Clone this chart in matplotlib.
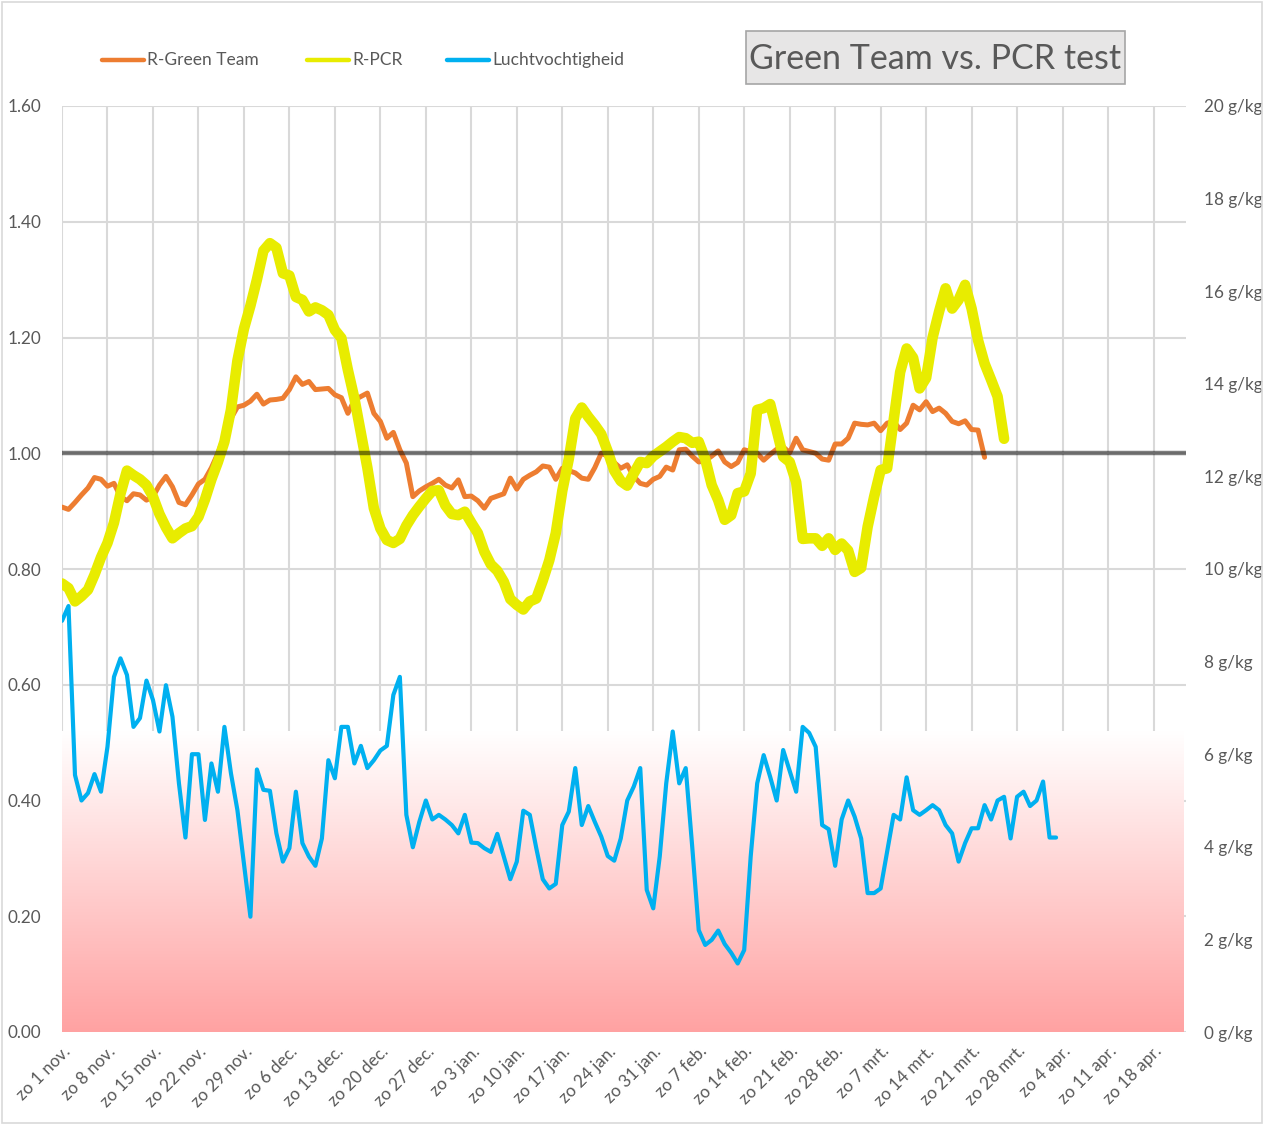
import matplotlib
matplotlib.use("Agg")
import matplotlib.pyplot as plt
import numpy as np
from matplotlib.colors import LinearSegmentedColormap
from matplotlib.patches import Rectangle
from matplotlib.lines import Line2D

plt.rcParams['font.family'] = ['Lato', 'DejaVu Sans']

# ---------------- data ----------------
n_days = 173  # daily categories from zo 1 nov. onward
week_labels = ["zo 1 nov.", "zo 8 nov.", "zo 15 nov.", "zo 22 nov.", "zo 29 nov.",
               "zo 6 dec.", "zo 13 dec.", "zo 20 dec.", "zo 27 dec.", "zo 3 jan.",
               "zo 10 jan.", "zo 17 jan.", "zo 24 jan.", "zo 31 jan.", "zo 7 feb.",
               "zo 14 feb.", "zo 21 feb.", "zo 28 feb.", "zo 7 mrt.", "zo 14 mrt.",
               "zo 21 mrt.", "zo 28 mrt.", "zo 4 apr.", "zo 11 apr.", "zo 18 apr."]

r_green_team = [0.907, 0.903, 0.915, 0.928, 0.940, 0.958, 0.955, 0.943, 0.948, 0.925,
                0.918, 0.930, 0.928, 0.919, 0.925, 0.945, 0.960, 0.942, 0.915, 0.911,
                0.928, 0.947, 0.955, 0.975, 1.000, 1.030, 1.060, 1.080, 1.083, 1.090,
                1.102, 1.085, 1.092, 1.093, 1.095, 1.110, 1.132, 1.119, 1.124, 1.110,
                1.111, 1.112, 1.101, 1.096, 1.069, 1.092, 1.098, 1.104, 1.069, 1.055,
                1.026, 1.036, 1.006, 0.983, 0.925, 0.935, 0.942, 0.948, 0.955, 0.945,
                0.940, 0.954, 0.925, 0.926, 0.918, 0.905, 0.922, 0.926, 0.930, 0.957,
                0.938, 0.955, 0.962, 0.968, 0.978, 0.976, 0.955, 0.974, 0.970, 0.966,
                0.957, 0.955, 0.975, 1.000, 0.995, 0.984, 0.974, 0.980, 0.960, 0.948,
                0.945, 0.955, 0.960, 0.976, 0.971, 1.006, 1.007, 0.995, 0.985, 0.987,
                0.995, 1.004, 0.985, 0.977, 0.984, 1.006, 1.003, 1.000, 0.988, 0.998,
                1.007, 1.011, 1.001, 1.026, 1.006, 1.003, 1.000, 0.990, 0.988, 1.016,
                1.016, 1.026, 1.052, 1.050, 1.049, 1.052, 1.039, 1.052, 1.055, 1.041,
                1.052, 1.083, 1.075, 1.089, 1.072, 1.078, 1.069, 1.055, 1.051, 1.056,
                1.041, 1.040, 0.993]

r_pcr = [0.775, 0.767, 0.744, 0.753, 0.764, 0.790, 0.820, 0.845, 0.880, 0.930,
         0.970, 0.962, 0.955, 0.945, 0.925, 0.895, 0.872, 0.853, 0.862, 0.870,
         0.874, 0.890, 0.920, 0.955, 0.985, 1.020, 1.075, 1.160, 1.215, 1.255,
         1.300, 1.350, 1.363, 1.355, 1.311, 1.307, 1.270, 1.265, 1.245, 1.252,
         1.247, 1.239, 1.213, 1.199, 1.144, 1.095, 1.035, 0.975, 0.905, 0.870,
         0.850, 0.845, 0.852, 0.875, 0.893, 0.908, 0.922, 0.935, 0.936, 0.910,
         0.895, 0.893, 0.899, 0.880, 0.862, 0.830, 0.808, 0.797, 0.778, 0.748,
         0.738, 0.730, 0.744, 0.749, 0.780, 0.815, 0.862, 0.935, 0.990, 1.060,
         1.079, 1.063, 1.049, 1.033, 1.003, 0.970, 0.952, 0.944, 0.965, 0.985,
         0.983, 0.995, 1.003, 1.011, 1.020, 1.028, 1.026, 1.018, 1.020, 0.990,
         0.945, 0.919, 0.885, 0.893, 0.931, 0.934, 0.965, 1.075, 1.078, 1.085,
         1.040, 0.994, 0.985, 0.950, 0.852, 0.853, 0.853, 0.840, 0.853, 0.833,
         0.844, 0.832, 0.795, 0.802, 0.873, 0.925, 0.971, 0.974, 1.057, 1.140,
         1.181, 1.165, 1.112, 1.130, 1.200, 1.245, 1.285, 1.250, 1.265, 1.291,
         1.250, 1.195, 1.155, 1.127, 1.098, 1.025]

luchtvochtigheid = [8.88, 9.20, 5.55, 5.00, 5.16, 5.57, 5.19, 6.16, 7.67, 8.07,
                    7.71, 6.59, 6.78, 7.59, 7.17, 6.49, 7.49, 6.81, 5.37, 4.20,
                    6.00, 6.00, 4.58, 5.80, 5.19, 6.59, 5.59, 4.79, 3.64, 2.49,
                    5.67, 5.23, 5.21, 4.29, 3.68, 3.97, 5.19, 4.08, 3.79, 3.59,
                    4.18, 5.87, 5.48, 6.59, 6.59, 5.80, 6.18, 5.70, 5.87, 6.08,
                    6.18, 7.28, 7.67, 4.69, 3.99, 4.54, 5.00, 4.59, 4.69, 4.59,
                    4.47, 4.29, 4.69, 4.09, 4.08, 3.97, 3.89, 4.28, 3.79, 3.30,
                    3.68, 4.78, 4.69, 3.97, 3.30, 3.10, 3.20, 4.47, 4.76, 5.70,
                    4.47, 4.88, 4.54, 4.22, 3.80, 3.70, 4.18, 5.00, 5.30, 5.70,
                    3.07, 2.67, 3.79, 5.37, 6.49, 5.37, 5.70, 4.00, 2.20, 1.88,
                    1.99, 2.19, 1.90, 1.71, 1.48, 1.77, 3.79, 5.37, 5.98, 5.51,
                    5.00, 6.09, 5.64, 5.19, 6.59, 6.46, 6.16, 4.47, 4.38, 3.59,
                    4.59, 5.00, 4.65, 4.18, 3.00, 3.00, 3.10, 3.89, 4.69, 4.59,
                    5.50, 4.79, 4.69, 4.79, 4.90, 4.79, 4.47, 4.29, 3.68, 4.08,
                    4.40, 4.40, 4.90, 4.59, 5.00, 5.08, 4.18, 5.08, 5.19, 4.88,
                    5.00, 5.41, 4.20, 4.20]

reference_r = 1.00          # horizontal line R = 1
humid_band_top = 6.5        # g/kg, top of the red gradient band

left_ticks = [0.00, 0.20, 0.40, 0.60, 0.80, 1.00, 1.20, 1.40, 1.60]
right_ticks = [0, 2, 4, 6, 8, 10, 12, 14, 16, 18, 20]

# ---------------- figure ----------------
W, H = 1264, 1125
fig = plt.figure(figsize=(W / 100, H / 100), dpi=100)
x0, x1, ytop, ybot = 62, 1186, 106, 1032
ax = fig.add_axes([x0 / W, 1 - ybot / H, (x1 - x0) / W, (ybot - ytop) / H])
ax2 = ax.twinx()

txt = '#595959'
grid_c = '#D9D9D9'

days = np.arange(n_days)
xmax = n_days

# gradient band (right axis)
cmap = LinearSegmentedColormap.from_list('band', ['#FFA2A2', '#FFFFFF'])
grad = np.linspace(0, 1, 256).reshape(-1, 1)
ax2.imshow(grad, extent=[0, xmax - 0.4, 0, humid_band_top], origin='lower',
           cmap=cmap, aspect='auto', zorder=1, interpolation='bicubic')

# lines
ax.axhline(reference_r, color='black', alpha=0.5, lw=3.2, zorder=5,
           solid_capstyle='round')
ax.plot(days[:len(r_green_team)], r_green_team, color='#ED7D31', lw=3.6,
        solid_capstyle='round', solid_joinstyle='round', zorder=3)
ax.plot(days[:len(r_pcr)], r_pcr, color='#E8EC00', lw=7.6,
        solid_capstyle='round', solid_joinstyle='round', zorder=4)
ax2.plot(days[:len(luchtvochtigheid)], luchtvochtigheid, color='#00B0F0', lw=3.0,
         solid_capstyle='round', solid_joinstyle='round', zorder=3)

# axes limits and ticks
ax.set_xlim(0, xmax)
ax2.set_xlim(0, xmax)
ax.set_ylim(0, 1.6)
ax2.set_ylim(0, 20)

ax.set_yticks(left_ticks)
ax.set_yticklabels([f"{v:.2f}" for v in left_ticks])
ax2.set_yticks(right_ticks)
ax2.set_yticklabels([f"{v} g/kg" for v in right_ticks])

week_pos = np.arange(0, 7 * len(week_labels), 7)
ax.set_xticks(week_pos)
ax.set_xticklabels(week_labels, rotation=45, ha='right', rotation_mode='anchor')

ax.tick_params(axis='both', length=0, colors=txt, labelsize=12.3)
ax.tick_params(axis='y', pad=15)
ax.tick_params(axis='x', pad=8)
ax2.tick_params(axis='y', length=0, colors=txt, labelsize=12.3, pad=13)

ax.grid(True, color=grid_c, lw=1.5, zorder=0)
ax.set_axisbelow(True)
for a in (ax, ax2):
    for s in a.spines.values():
        s.set_visible(False)

# legend (manual, top left)
def leg_item(xa, xb, xt, label, color):
    y = 1 - 60 / H
    fig.add_artist(Line2D([xa / W, xb / W], [y, y], color=color, lw=3.2,
                          solid_capstyle='round', transform=fig.transFigure))
    fig.text(xt / W, y, label, color=txt, fontsize=12.5, va='center', ha='left')

leg_item(102, 144, 147, 'R-Green Team', '#ED7D31')
leg_item(307, 349, 352, 'R-PCR', '#E8EC00')
leg_item(447, 489, 492, 'Luchtvochtigheid', '#00B0F0')

# title box
fig.add_artist(Rectangle((746 / W, 1 - 84 / H), (1125 - 746) / W, (84 - 31) / H,
                         transform=fig.transFigure, facecolor='#E7E6E6',
                         edgecolor='#A6A6A6', lw=1.2))
fig.text((746 + 1125) / 2 / W, 1 - 59 / H, 'Green Team vs. PCR test', color=txt,
         fontsize=24.5, ha='center', va='center')

# chart border
fig.add_artist(Rectangle((0.0015, 0.0015), 0.997, 0.997, transform=fig.transFigure,
                         facecolor='none', edgecolor='#D9D9D9', lw=1.2))

fig.savefig('out.png', dpi=100, facecolor='white')
